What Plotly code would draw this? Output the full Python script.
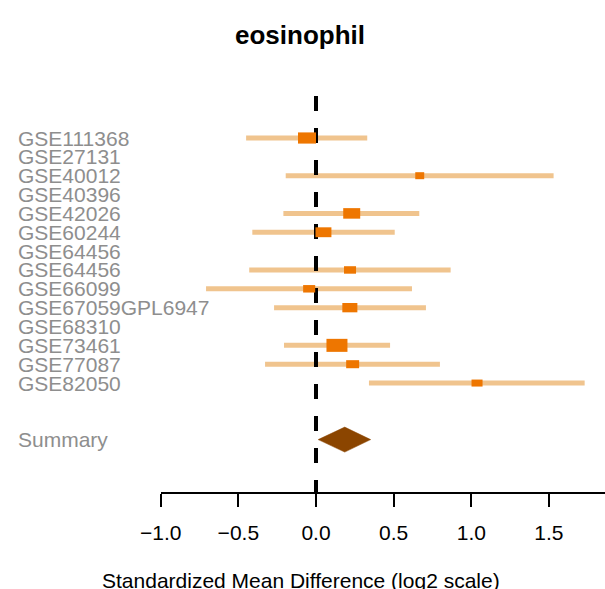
import plotly.graph_objects as go

# Studies, effect estimates (standardized mean difference) and 95% CIs
studies = ["GSE111368", "GSE27131", "GSE40012", "GSE40396", "GSE42026",
           "GSE60244", "GSE64456", "GSE64456", "GSE66099", "GSE67059GPL6947",
           "GSE68310", "GSE73461", "GSE77087", "GSE82050"]
estimate = [-0.058, None, 0.668, None, 0.230, 0.048, None, 0.219, -0.044,
            0.218, None, 0.135, 0.236, 1.037]
lower = [-0.450, None, -0.195, None, -0.210, -0.410, None, -0.430, -0.708,
         -0.270, None, -0.206, -0.328, 0.341]
upper = [0.330, None, 1.530, None, 0.665, 0.507, None, 0.867, 0.618,
         0.708, None, 0.477, 0.798, 1.730]
weights = [12.1, None, 6.0, None, 11.4, 10.7, None, 8.1, 8.1,
           10.1, None, 14.1, 8.7, 7.4]

summary_label = "Summary"
summary_est = 0.185
summary_lower = 0.014
summary_upper = 0.352

tick_vals = [-1.0, -0.5, 0.0, 0.5, 1.0, 1.5]

# ---- layout geometry ----
W, H = 605, 589
PLOT_BOTTOM = 492          # pixel row of the x axis line
ROW_PX = 18.85             # vertical spacing of study rows
FIRST_ROW_PX = 138
X_LEFT_PX = 160.7          # where -1.0 sits
X_MAX = 1.861
PX_PER_UNIT = (W - X_LEFT_PX) / (X_MAX - tick_vals[0])

summary_row = 16
y_top = -FIRST_ROW_PX / ROW_PX
y_bottom = (PLOT_BOTTOM - FIRST_ROW_PX) / ROW_PX
zero_line_top = (96 - FIRST_ROW_PX) / ROW_PX

LINE_COLOR = "#F0C48E"
BOX_COLOR = "#EE7600"
DIAMOND_COLOR = "#8B4500"
LABEL_COLOR = "#8E8E8E"
FONT = "Liberation Sans, Arial, Helvetica, sans-serif"

fig = go.Figure()

# confidence interval segments
for i, (lo, hi) in enumerate(zip(lower, upper)):
    if lo is None:
        continue
    fig.add_trace(go.Scatter(x=[lo, hi], y=[i, i], mode="lines",
                             line=dict(color=LINE_COLOR, width=5),
                             hoverinfo="skip", showlegend=False))

# dashed reference line at zero
fig.add_trace(go.Scatter(x=[0, 0], y=[zero_line_top, y_bottom],
                         mode="lines",
                         line=dict(color="black", width=4, dash="15px,17px"),
                         hoverinfo="skip", showlegend=False))

# study boxes, size proportional to weight
for i, (est, w) in enumerate(zip(estimate, weights)):
    if est is None:
        continue
    bw_px = 1.49 * w
    bh_px = max(7.0, 0.62 * bw_px)
    hw = bw_px / 2 / PX_PER_UNIT
    hh = bh_px / 2 / ROW_PX
    fig.add_shape(type="rect", xref="x", yref="y",
                  x0=est - hw, x1=est + hw, y0=i - hh, y1=i + hh,
                  fillcolor=BOX_COLOR, line=dict(width=0), layer="above")

# summary diamond
dh = 12.5 / ROW_PX
fig.add_trace(go.Scatter(
    x=[summary_lower, summary_est, summary_upper, summary_est, summary_lower],
    y=[summary_row, summary_row - dh, summary_row, summary_row + dh, summary_row],
    mode="lines", fill="toself", fillcolor=DIAMOND_COLOR,
    line=dict(color=DIAMOND_COLOR, width=0.5),
    hoverinfo="skip", showlegend=False))

# study labels
for i, name in enumerate(studies + [summary_label]):
    row = i if i < len(studies) else summary_row
    fig.add_annotation(x=17 / W, xref="paper", y=row, yref="y",
                       text=name, showarrow=False, xanchor="left",
                       yanchor="middle", borderpad=0,
                       font=dict(family=FONT, size=21, color=LABEL_COLOR))

# title and x axis caption
fig.add_annotation(x=300 / W, xref="paper", y=(PLOT_BOTTOM - 35) / PLOT_BOTTOM,
                   yref="paper", text="<b>eosinophil</b>", showarrow=False,
                   xanchor="center", yanchor="middle",
                   font=dict(family=FONT, size=26, color="black"))
fig.add_annotation(x=301 / W, xref="paper", y=(PLOT_BOTTOM - 580) / PLOT_BOTTOM,
                   yref="paper", text="Standardized Mean Difference (log2 scale)",
                   showarrow=False, xanchor="center", yanchor="middle",
                   font=dict(family=FONT, size=21, color="black"))

fig.update_layout(
    width=W, height=H,
    margin=dict(l=0, r=0, t=0, b=H - PLOT_BOTTOM, pad=0, autoexpand=False),
    paper_bgcolor="white", plot_bgcolor="white",
    xaxis=dict(domain=[X_LEFT_PX / W, 1], range=[tick_vals[0], X_MAX],
               showgrid=False, zeroline=False, showline=True,
               linecolor="black", linewidth=2,
               ticks="outside", ticklen=13, tickwidth=2, tickcolor="black",
               tickvals=tick_vals, tickformat=".1f",
               ticklabelstandoff=8, automargin=False,
               tickfont=dict(family=FONT, size=21, color="black"),
               fixedrange=True),
    yaxis=dict(range=[y_bottom, y_top], visible=False, fixedrange=True,
               automargin=False),
    showlegend=False,
)

fig.write_html("out.html")
